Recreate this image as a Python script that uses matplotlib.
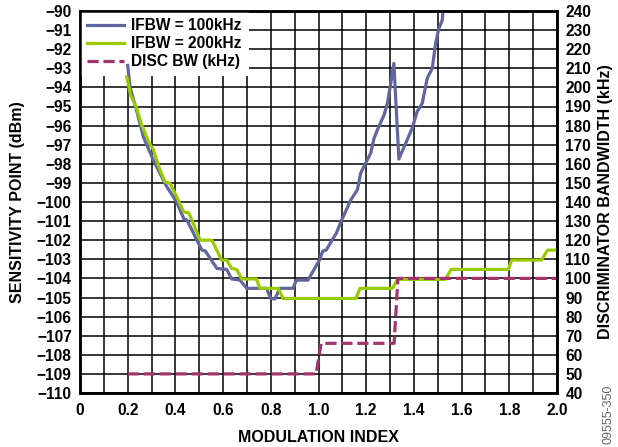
import numpy as np
import matplotlib
matplotlib.use("Agg")
import matplotlib.pyplot as plt
from matplotlib.ticker import MultipleLocator

plt.rcParams['font.family'] = ['Liberation Sans', 'DejaVu Sans']
plt.rcParams['font.weight'] = 'bold'

# IFBW = 100kHz (dBm)
mod_100 = [0.20, 0.21, 0.235, 0.266, 0.307, 0.364, 0.405, 0.435, 0.449, 0.511, 0.525,
           0.574, 0.615, 0.636, 0.671, 0.699, 0.782, 0.799, 0.817, 0.838, 0.893, 0.907,
           0.956, 1.004, 1.018, 1.032, 1.074, 1.094, 1.135, 1.163, 1.177, 1.198, 1.219,
           1.233, 1.247, 1.275, 1.289, 1.303, 1.316, 1.337, 1.393, 1.414, 1.435, 1.449,
           1.456, 1.477, 1.491, 1.505, 1.519, 1.522]
sens_100 = [-92.85, -94.0, -95.1, -96.6, -97.8, -99.2, -100.0, -100.87, -100.96, -102.52, -102.56,
            -103.48, -103.53, -104.03, -104.09, -104.52, -104.52, -105.04, -105.08, -104.52, -104.52, -104.09,
            -104.09, -103.04, -102.56, -102.52, -101.65, -101.04, -99.9, -99.36, -98.48, -97.96, -97.44,
            -96.66, -96.22, -95.44, -94.83, -93.78, -92.74, -97.75, -96.13, -95.26, -94.83, -93.95,
            -93.52, -93.0, -91.69, -90.91, -90.47, -90.0]

# IFBW = 200kHz (dBm)
mod_200 = [0.196, 0.212, 0.235, 0.259, 0.287, 0.307, 0.335, 0.356, 0.377, 0.405, 0.435,
           0.456, 0.504, 0.553, 0.594, 0.615, 0.636, 0.657, 0.678, 0.740, 0.754, 0.831,
           0.851, 1.157, 1.174, 1.31, 1.331, 1.532, 1.556, 1.796, 1.810, 1.935, 1.96, 2.0]
sens_200 = [-93.44, -94.40, -95.01, -95.97, -96.84, -97.24, -98.32, -98.94, -99.02, -99.72, -100.52,
            -100.57, -102.0, -102.0, -103.04, -103.04, -103.48, -103.53, -104.03, -104.03, -104.52, -104.52,
            -105.05, -105.05, -104.52, -104.52, -104.05, -104.05, -103.53, -103.53, -103.04, -103.04, -102.52, -102.52]

# discriminator bandwidth (kHz)
mod_disc = [0.2, 0.99, 1.011, 1.317, 1.333, 2.0]
disc_bw = [50, 50, 66, 66, 100, 100]

fig = plt.figure(figsize=(6.18, 4.47), dpi=100)
ax = fig.add_axes([80/618, 1-393/447, 477/618, 382/447])

l1, = ax.plot(mod_100, sens_100, color='#62669e', lw=2.3, zorder=6, label='IFBW = 100kHz')
l2, = ax.plot(mod_200, sens_200, color='#99cc00', lw=2.3, zorder=6, label='IFBW = 200kHz')

ax.set_xlim(0, 2.0)
ax.set_ylim(-110, -90)
ax.xaxis.set_minor_locator(MultipleLocator(0.1))
ax.yaxis.set_major_locator(MultipleLocator(1))
ax.set_xticks(np.arange(0, 2.01, 0.2))
ax.set_xticklabels(['0'] + ['%.1f' % v for v in np.arange(0.2, 2.01, 0.2)])
ax.grid(True, which='both', color='black', lw=1.1)
ax.tick_params(which='both', length=0, labelsize=11.2)
ax.tick_params(axis='y', pad=6)
ax.tick_params(axis='x', pad=7)
for s in ax.spines.values():
    s.set_linewidth(1.8)

ax2 = ax.twinx()
l3, = ax2.plot(mod_disc, disc_bw, color='#a3336c', lw=2.3, dashes=(3.5, 1.5),
               label='DISC BW (kHz)')
ax2.set_ylim(40, 240)
ax2.yaxis.set_major_locator(MultipleLocator(10))
ax2.tick_params(length=0, labelsize=11.2, pad=6)
for s in ax2.spines.values():
    s.set_linewidth(1.8)

leg = ax.legend(handles=[l1, l2, l3], loc='upper left', fontsize=11.2, frameon=True,
                fancybox=False, framealpha=1, edgecolor='none', borderaxespad=0,
                handlelength=2.4, handletextpad=0.45, labelspacing=0.2, borderpad=0.45)
leg.set_zorder(5)

ax.set_ylabel('SENSITIVITY POINT (dBm)', fontsize=11.5, fontweight='bold')
ax.yaxis.set_label_coords(-0.116, 0.5)
ax2.set_ylabel('DISCRIMINATOR BANDWIDTH (kHz)', fontsize=11.5, fontweight='bold')
ax2.yaxis.set_label_coords(1.086, 0.5)
ax.set_xlabel('MODULATION INDEX', fontsize=11.5, fontweight='bold')
ax.xaxis.set_label_coords(0.5, -0.098)

fig.text(0.985, 1 - 385/447, '09555-350', rotation=90, fontsize=9, color='#666666',
         fontweight='normal', ha='center', va='top')

fig.savefig('out.png', dpi=100)
